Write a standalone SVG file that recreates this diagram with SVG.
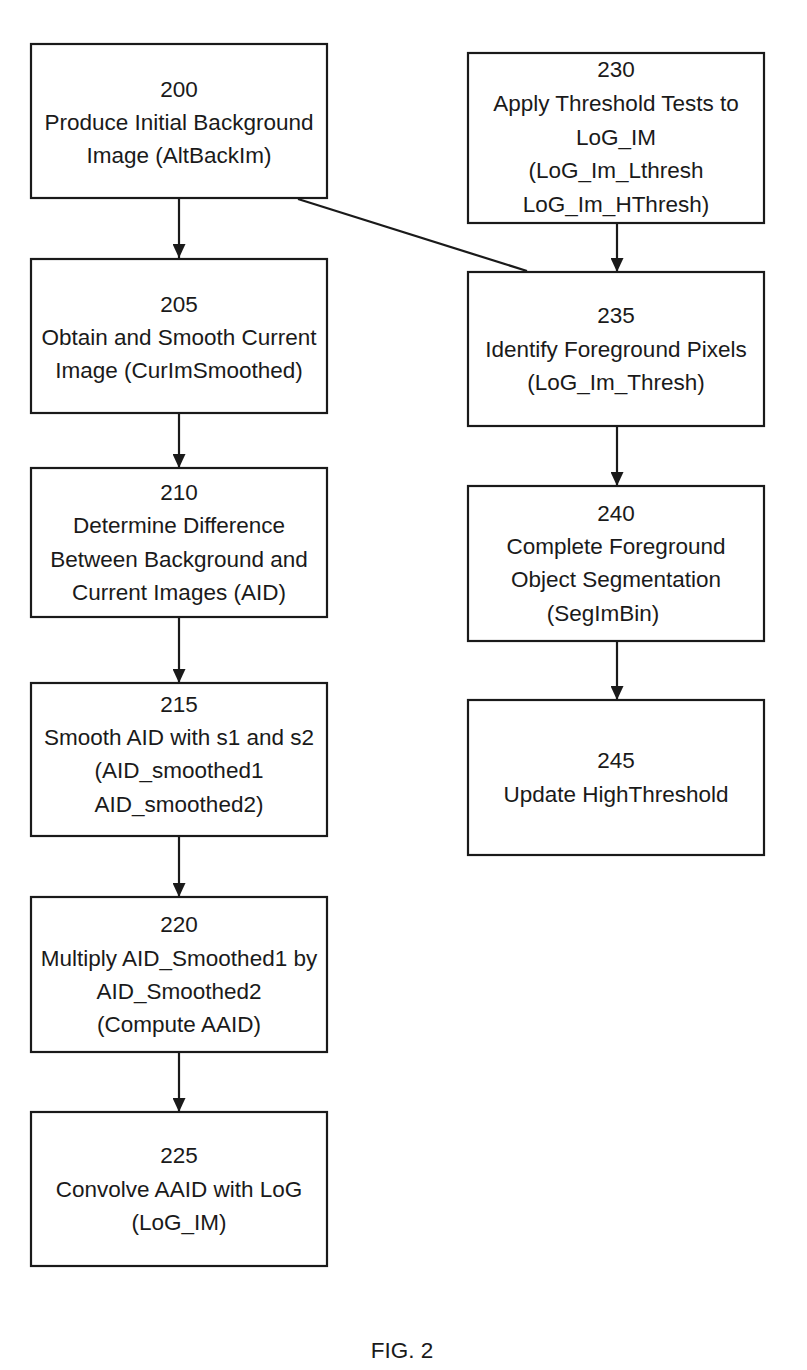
<svg xmlns="http://www.w3.org/2000/svg" width="807" height="1370" viewBox="0 0 807 1370">
<defs>
<style>
.box{fill:#fff;stroke:#1a1a1a;stroke-width:2.2}
.t{font-family:"Liberation Sans",Arial,sans-serif;font-size:22.5px;fill:#1a1a1a;text-anchor:middle}
.c{stroke:#1a1a1a;stroke-width:2.2;fill:none}
</style>
<marker id="ah" viewBox="0 0 14 13" refX="14" refY="6.5" markerWidth="14" markerHeight="13" markerUnits="userSpaceOnUse" orient="auto">
<path d="M0,0 L14,6.5 L0,13 Z" fill="#1a1a1a"/>
</marker>
</defs>
<rect width="807" height="1370" fill="#fff"/>
<g id="connectors">
<line class="c" x1="179" y1="198" x2="179" y2="258" marker-end="url(#ah)"/>
<line class="c" x1="179" y1="413" x2="179" y2="468" marker-end="url(#ah)"/>
<line class="c" x1="179" y1="617" x2="179" y2="683" marker-end="url(#ah)"/>
<line class="c" x1="179" y1="836" x2="179" y2="897" marker-end="url(#ah)"/>
<line class="c" x1="179" y1="1052" x2="179" y2="1112" marker-end="url(#ah)"/>
<line class="c" x1="617" y1="223" x2="617" y2="272" marker-end="url(#ah)"/>
<line class="c" x1="617" y1="426" x2="617" y2="486" marker-end="url(#ah)"/>
<line class="c" x1="617" y1="641" x2="617" y2="700" marker-end="url(#ah)"/>
<line class="c" x1="298" y1="199" x2="527" y2="271"/>
</g>
<g id="n200">
<rect class="box" x="31" y="44" width="296" height="154"/>
<text class="t" x="179" y="97">200</text>
<text class="t" x="179" y="130">Produce Initial Background</text>
<text class="t" x="179" y="163">Image (AltBackIm)</text>
</g>
<g id="n205">
<rect class="box" x="31" y="259" width="296" height="154"/>
<text class="t" x="179" y="312">205</text>
<text class="t" x="179" y="345">Obtain and Smooth Current</text>
<text class="t" x="179" y="378">Image (CurImSmoothed)</text>
</g>
<g id="n210">
<rect class="box" x="31" y="468" width="296" height="149"/>
<text class="t" x="179" y="500">210</text>
<text class="t" x="179" y="533">Determine Difference</text>
<text class="t" x="179" y="567">Between Background and</text>
<text class="t" x="179" y="600">Current Images (AID)</text>
</g>
<g id="n215">
<rect class="box" x="31" y="683" width="296" height="153"/>
<text class="t" x="179" y="712">215</text>
<text class="t" x="179" y="745">Smooth AID with s1 and s2</text>
<text class="t" x="179" y="778">(AID_smoothed1</text>
<text class="t" x="179" y="812">AID_smoothed2)</text>
</g>
<g id="n220">
<rect class="box" x="31" y="897" width="296" height="155"/>
<text class="t" x="179" y="932">220</text>
<text class="t" x="179" y="966">Multiply AID_Smoothed1 by</text>
<text class="t" x="179" y="999">AID_Smoothed2</text>
<text class="t" x="179" y="1032">(Compute AAID)</text>
</g>
<g id="n225">
<rect class="box" x="31" y="1112" width="296" height="154"/>
<text class="t" x="179" y="1163">225</text>
<text class="t" x="179" y="1197">Convolve AAID with LoG</text>
<text class="t" x="179" y="1230">(LoG_IM)</text>
</g>
<g id="n230">
<rect class="box" x="468" y="53" width="296" height="170"/>
<text class="t" x="616" y="77">230</text>
<text class="t" x="616" y="111">Apply Threshold Tests to</text>
<text class="t" x="616" y="145">LoG_IM</text>
<text class="t" x="616" y="178">(LoG_Im_Lthresh</text>
<text class="t" x="616" y="212">LoG_Im_HThresh)</text>
</g>
<g id="n235">
<rect class="box" x="468" y="272" width="296" height="154"/>
<text class="t" x="616" y="323">235</text>
<text class="t" x="616" y="357">Identify Foreground Pixels</text>
<text class="t" x="616" y="390">(LoG_Im_Thresh)</text>
</g>
<g id="n240">
<rect class="box" x="468" y="486" width="296" height="155"/>
<text class="t" x="616" y="521">240</text>
<text class="t" x="616" y="554">Complete Foreground</text>
<text class="t" x="616" y="587">Object Segmentation</text>
<text class="t" x="603" y="621">(SegImBin)</text>
</g>
<g id="n245">
<rect class="box" x="468" y="700" width="296" height="155"/>
<text class="t" x="616" y="768">245</text>
<text class="t" x="616" y="802">Update HighThreshold</text>
</g>
<text class="t" x="402" y="1358">FIG. 2</text>
</svg>
